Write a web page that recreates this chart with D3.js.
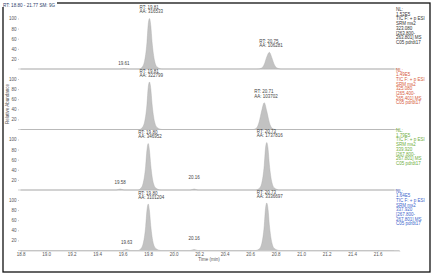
<!DOCTYPE html>
<html>
<head>
<meta charset="utf-8">
<script src="https://cdn.jsdelivr.net/npm/d3@7"></script>
<style>
  body { margin: 0; background: #fff; }
  text { font-family: "Liberation Sans", Arial, sans-serif; }
</style>
</head>
<body>
<script>
// chromatogram traces: [time (min), relative abundance %]
const trace1 = [[18.80,0],[19.58,0],[19.61,1],[19.64,0],[19.73,0],[19.75,3],[19.77,14],[19.79,52],[19.80,88],[19.81,100],[19.82,86],[19.83,54],[19.85,16],[19.87,4],[19.91,0],
  [20.66,0],[20.69,2],[20.71,9],[20.73,24],[20.75,33],[20.77,22],[20.79,8],[20.81,2],[20.84,0],[21.77,0]];
const trace2 = [[18.80,0],[19.73,0],[19.75,3],[19.77,13],[19.79,49],[19.80,83],[19.81,94],[19.82,81],[19.83,51],[19.85,15],[19.87,4],[19.91,0],
  [20.62,0],[20.65,3],[20.67,15],[20.69,37],[20.71,53],[20.73,36],[20.75,14],[20.77,3],[20.80,0],[21.77,0]];
const trace3 = [[18.80,0],[19.55,0],[19.58,2],[19.61,0],[19.72,0],[19.74,3],[19.76,13],[19.78,47],[19.79,79],[19.80,92],[19.81,78],[19.82,49],[19.84,14],[19.86,4],[19.90,0],
  [20.13,0],[20.16,2],[20.19,0],[20.64,0],[20.67,3],[20.69,13],[20.71,49],[20.72,83],[20.73,94],[20.74,81],[20.75,51],[20.77,15],[20.79,4],[20.83,0],[21.77,0]];
const trace4 = [[18.80,0],[19.60,0],[19.63,2],[19.66,0],[19.72,0],[19.74,3],[19.76,13],[19.78,47],[19.79,79],[19.80,92],[19.81,78],[19.82,49],[19.84,14],[19.86,4],[19.90,0],
  [20.13,0],[20.16,2],[20.19,0],[20.64,0],[20.67,3],[20.69,13],[20.71,49],[20.72,83],[20.73,94],[20.74,81],[20.75,51],[20.77,15],[20.79,4],[20.83,0],[21.77,0]];

// peak annotations: [rt, apex %, area]
const labels1 = [[19.81,100,"316533"],[20.75,33,"106281"]];
const labels2 = [[19.81,94,"322799"],[20.71,53,"103702"]];
const labels3 = [[19.80,92,"346952"],[20.73,94,"1737816"]];
const labels4 = [[19.80,92,"3101204"],[20.73,94,"3336697"]];
// small rt labels: [rt, height %]
const minor1 = [[19.61,8]];
const minor2 = [];
const minor3 = [[19.58,11],[20.16,21]];
const minor4 = [[19.63,12],[20.16,20]];

const xTicks = [18.8,19.0,19.2,19.4,19.6,19.8,20.0,20.2,20.4,20.6,20.8,21.0,21.2,21.4,21.6];
const yTicks = [20,40,60,80,100];

const nlValues = ["1.52E5","1.49E5","1.79E5","1.64E5"];
const massValues = ["323.080","325.080","339.920","337.920"];
const rangeLo = ["[263.800-","[265.400-","[267.800-","[267.800-"];
const rangeHi = ["263.801] MS","265.401] MS","267.801] MS","267.801] MS"];
const fileName = ["C05 pdrdt17","C05 pdrdt17","C05 pdrdt17","C05 pdrdt17"];
const infoColors = ["#333333","#d65a3c","#6eae3e","#4166cc"];

const traces = [trace1, trace2, trace3, trace4];
const peakLabels = [labels1, labels2, labels3, labels4];
const minorLabels = [minor1, minor2, minor3, minor4];
const baselines = [69, 129.5, 190, 250.5];
const panelH = 50.5;

const W = 434, H = 277;
const svg = d3.select("body").append("svg")
  .attr("width", W)
  .attr("height", H);

svg.append("rect")
  .attr("x", 3).attr("y", 3)
  .attr("width", 427).attr("height", 269)
  .attr("fill", "#fff")
  .attr("stroke", "#111")
  .attr("stroke-width", 1.3);

// header sits on the frame
svg.append("rect")
  .attr("x", 1).attr("y", 0)
  .attr("width", 56).attr("height", 7)
  .attr("fill", "#fff");
svg.append("text")
  .attr("x", 3).attr("y", 6.5)
  .attr("font-size", 4.6)
  .attr("fill", "#2d3d6b")
  .text("RT: 18.80 - 21.77   SM: 9G");

const x = d3.scaleLinear().domain([18.8, 21.77]).range([20.7, 399.4]);

const fs = 4.5;

traces.forEach((tr, i) => {
  const base = baselines[i];
  const y = d3.scaleLinear().domain([0, 100]).range([base, base - panelH]);
  const g = svg.append("g");

  // baseline / separator
  g.append("line")
    .attr("x1", 18).attr("x2", 394)
    .attr("y1", base).attr("y2", base)
    .attr("stroke", "#d4d4d4")
    .attr("stroke-width", 1.2);

  const area = d3.area()
    .x(d => x(d[0]))
    .y0(base)
    .y1(d => y(d[1]))
    .curve(d3.curveMonotoneX);

  g.append("path")
    .datum(tr)
    .attr("d", area)
    .attr("fill", "#c2c2c2")
    .attr("stroke", "#a9a9a9")
    .attr("stroke-width", 0.4);

  const yAxis = d3.axisLeft(y)
    .tickValues(yTicks)
    .tickSize(1)
    .tickPadding(1.5);
  const ya = g.append("g")
    .attr("transform", "translate(19,0)")
    .call(yAxis);
  ya.select(".domain").remove();
  ya.selectAll("line").attr("stroke", "#ccc");
  ya.selectAll("text")
    .attr("font-size", fs)
    .attr("fill", "#555")
    .style("font-family", "Liberation Sans, Arial, sans-serif");

  peakLabels[i].forEach(p => {
    const px = x(p[0]) - 10, py = y(p[1]);
    g.append("text")
      .attr("x", px).attr("y", py - 9.3)
      .attr("font-size", fs).attr("fill", "#444")
      .text("RT: " + p[0].toFixed(2));
    g.append("text")
      .attr("x", px).attr("y", py - 5.2)
      .attr("font-size", fs).attr("fill", "#444")
      .text("AA: " + p[2]);
  });

  minorLabels[i].forEach(m => {
    g.append("text")
      .attr("x", x(m[0])).attr("y", y(m[1]))
      .attr("text-anchor", "middle")
      .attr("font-size", fs).attr("fill", "#444")
      .text(m[0].toFixed(2));
  });

  const info = ["NL:", nlValues[i], "TIC F: + p ESI", "SRM ms2", massValues[i], rangeLo[i], rangeHi[i], fileName[i]];
  g.append("g").selectAll("text")
    .data(info)
    .join("text")
    .attr("x", 396)
    .attr("y", (d, k) => base - 58 + k * 4.7)
    .attr("font-size", fs)
    .attr("fill", infoColors[i])
    .text(d => d);
});

// time axis
const xAxis = d3.axisBottom(x)
  .tickValues(xTicks)
  .tickFormat(d3.format(".1f"))
  .tickSize(1)
  .tickPadding(1.5);
const xa = svg.append("g")
  .attr("transform", "translate(0," + baselines[3] + ")")
  .call(xAxis);
xa.select(".domain").attr("stroke", "#d0d0d0");
xa.selectAll("line").attr("stroke", "#bbb");
xa.selectAll("text")
  .attr("font-size", fs)
  .attr("fill", "#555")
  .style("font-family", "Liberation Sans, Arial, sans-serif");

svg.append("text")
  .attr("x", 209).attr("y", 261)
  .attr("text-anchor", "middle")
  .attr("font-size", fs)
  .attr("fill", "#555")
  .text("Time (min)");

svg.append("text")
  .attr("transform", "translate(8.5,104) rotate(-90)")
  .attr("text-anchor", "middle")
  .attr("font-size", fs)
  .attr("fill", "#555")
  .text("Relative Abundance");
</script>
</body>
</html>
